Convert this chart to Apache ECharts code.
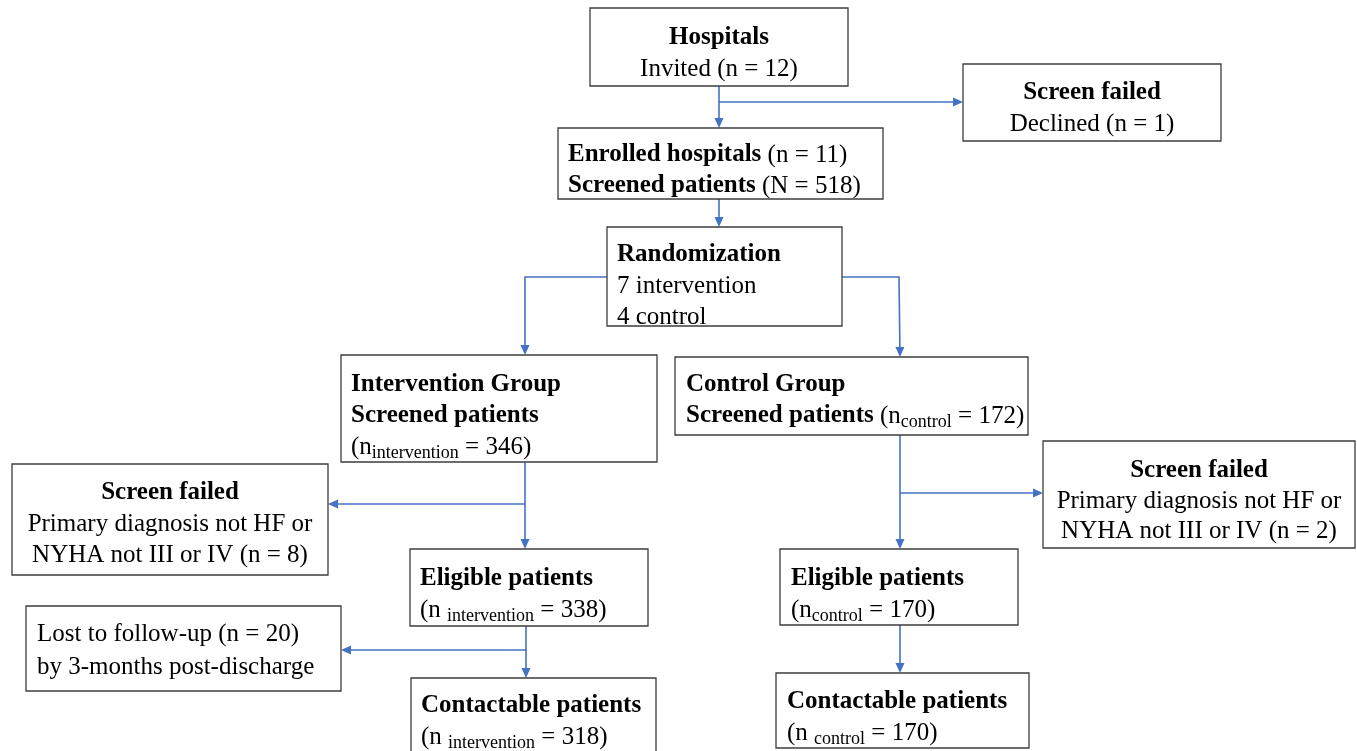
<!DOCTYPE html>
<html><head><meta charset="utf-8">
<script src="https://cdn.jsdelivr.net/npm/echarts@6/dist/echarts.min.js"></script>
<style>html,body{margin:0;padding:0;background:#fff}#c{width:1357px;height:751px}</style>
</head><body><div id="c"></div>
<script>
// ---------- data ----------
const hospitalsInvited = 12;
const hospitalsDeclined = 1;
const hospitalsEnrolled = 11;
const patientsScreened = 518;
const armNames = ['intervention', 'control'];
const armHospitals = [7, 4];
const armScreened = [346, 172];
const armScreenFailed = [8, 2];
const armEligible = [338, 170];
const armLost = [20];
const armContactable = [318, 170];

// ---------- box texts (rich text) ----------
const boxTexts = [
  '{b|Hospitals}\nInvited (n = ' + hospitalsInvited + ')',
  '{b|Screen failed}\nDeclined (n = ' + hospitalsDeclined + ')',
  '{b|Enrolled hospitals} (n = ' + hospitalsEnrolled + ')\n{b|Screened patients} (N = ' + patientsScreened + ')',
  '{b|Randomization}\n' + armHospitals[0] + ' ' + armNames[0] + '\n' + armHospitals[1] + ' ' + armNames[1],
  '{b|Intervention Group}\n{b|Screened patients}\n(n{s|' + armNames[0] + '} = ' + armScreened[0] + ')',
  '{b|Control Group}\n{b|Screened patients} (n{s|' + armNames[1] + '} = ' + armScreened[1] + ')',
  '{b|Screen failed}\nPrimary diagnosis not HF or\nNYHA not III or IV (n = ' + armScreenFailed[0] + ')',
  '{b|Screen failed}\nPrimary diagnosis not HF or\nNYHA not III or IV (n = ' + armScreenFailed[1] + ')',
  '{b|Eligible patients}\n(n {s|' + armNames[0] + '} = ' + armEligible[0] + ')',
  'Lost to follow-up (n = ' + armLost[0] + ')\nby 3-months post-discharge',
  '{b|Contactable patients}\n(n {s|' + armNames[0] + '} = ' + armContactable[0] + ')',
  '{b|Eligible patients}\n(n{s|' + armNames[1] + '} = ' + armEligible[1] + ')',
  '{b|Contactable patients}\n(n {s|' + armNames[1] + '} = ' + armContactable[1] + ')'
];

// ---------- layout (pixel-space of a 1357x751 canvas) ----------
// [x0, y0, x1, y1, align, textX, firstLineCenterY, lineHeight]
const boxLayout = [
  [590, 8, 848, 86, 'center', 719, 38, 31],
  [963, 64, 1221, 141, 'center', 1092, 93, 31],
  [558, 128, 883, 199, 'left', 568, 155, 31],
  [607, 227, 842, 326, 'left', 617, 255, 31],
  [341, 355, 657, 462, 'left', 351, 385, 31],
  [675, 357, 1028, 435, 'left', 686, 385, 31],
  [12, 464, 328, 575, 'center', 170, 493, 31],
  [1043, 441, 1355, 548, 'center', 1199, 471, 30],
  [410, 549, 648, 626, 'left', 420, 579, 31],
  [26, 606, 341, 691, 'left', 37, 634, 33],
  [411, 678, 656, 753, 'left', 421, 706, 31],
  [780, 549, 1018, 625, 'left', 791, 579, 31],
  [776, 673, 1029, 748, 'left', 787, 702, 31]
];
const connectors = [
  [[719, 86], [719, 128]],
  [[719, 102], [963, 102]],
  [[719, 199], [719, 227]],
  [[607, 277], [525, 277], [525, 355]],
  [[842, 277], [899, 277], [900, 357]],
  [[525, 462], [525, 549]],
  [[525, 504], [328, 504]],
  [[900, 435], [900, 549]],
  [[900, 493], [1043, 493]],
  [[526, 626], [526, 678]],
  [[526, 650], [341, 650]],
  [[900, 625], [900, 673]]
];

const FONT = '"Liberation Serif", "Times New Roman", serif';
const LINE = '#4472C4';
const BORDER = '#3c3c3c';

const chart = echarts.init(document.getElementById('c'), null, {renderer: 'canvas'});
chart.setOption({
  animation: false,
  backgroundColor: '#ffffff',
  grid: {left: 0, right: 0, top: 0, bottom: 0},
  xAxis: {type: 'value', min: 0, max: 1357, show: false},
  yAxis: {type: 'value', min: 0, max: 751, inverse: true, show: false},
  series: [
    {
      type: 'custom',
      coordinateSystem: 'cartesian2d',
      data: connectors.map(c => c[0]),
      renderItem: function (params, api) {
        const pts = connectors[params.dataIndex].map(p => api.coord(p));
        const n = pts.length;
        const tip = pts[n - 1], prev = pts[n - 2];
        const dx = tip[0] - prev[0], dy = tip[1] - prev[1];
        const len = Math.sqrt(dx * dx + dy * dy);
        const ux = dx / len, uy = dy / len;
        const L = 10, W = 4.5;
        const base = [tip[0] - ux * L, tip[1] - uy * L];
        const linePts = pts.slice(0, n - 1).concat([[tip[0] - ux * 3, tip[1] - uy * 3]]);
        return {
          type: 'group',
          children: [
            {type: 'polyline', shape: {points: linePts}, style: {stroke: LINE, lineWidth: 1.6, fill: null}},
            {type: 'polygon', shape: {points: [tip, [base[0] - uy * W, base[1] + ux * W], [base[0] + uy * W, base[1] - ux * W]]}, style: {fill: LINE}}
          ]
        };
      }
    },
    {
      type: 'custom',
      coordinateSystem: 'cartesian2d',
      data: boxLayout.map(b => [b[0], b[1]]),
      renderItem: function (params, api) {
        const b = boxLayout[params.dataIndex];
        const p0 = api.coord([b[0], b[1]]);
        const p1 = api.coord([b[2], b[3]]);
        const tp = api.coord([b[5], b[6]]);
        const lh = b[7];
        return {
          type: 'group',
          children: [
            {type: 'rect', shape: {x: p0[0], y: p0[1], width: p1[0] - p0[0], height: p1[1] - p0[1]},
              style: {fill: '#ffffff', stroke: BORDER, lineWidth: 1.3}},
            {type: 'text',
              style: {
                x: tp[0], y: tp[1] - lh / 2,
                text: boxTexts[params.dataIndex],
                align: b[4], verticalAlign: 'top',
                fill: '#000000', fontFamily: FONT, fontSize: 25, lineHeight: lh,
                rich: {
                  b: {fontWeight: 'bold', fontFamily: FONT, fontSize: 25, lineHeight: lh, fill: '#000000'},
                  s: {fontFamily: FONT, fontSize: 18, lineHeight: 12, verticalAlign: 'bottom', fill: '#000000'}
                }
              }}
          ]
        };
      }
    }
  ]
});
</script>
</body></html>
